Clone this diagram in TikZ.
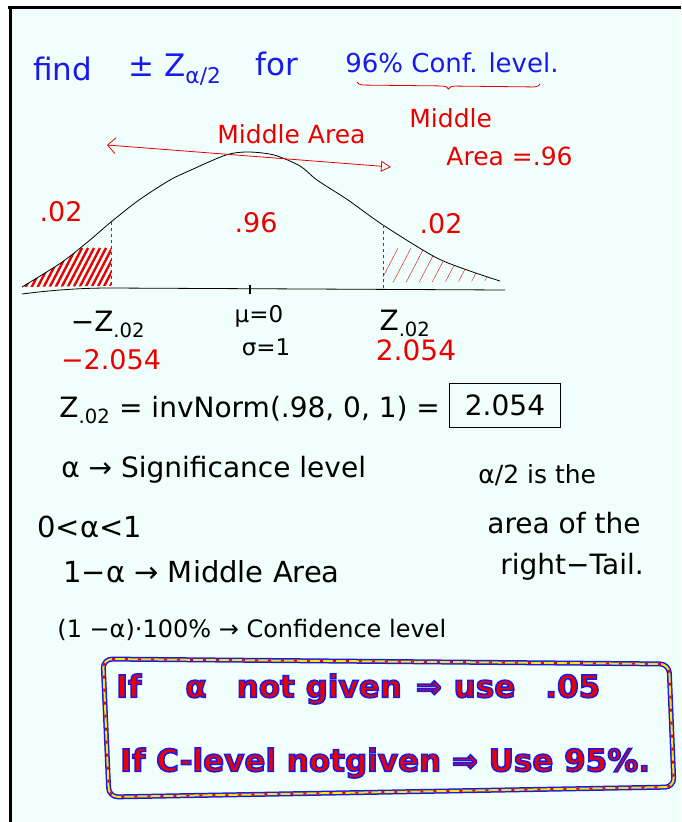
\documentclass[tikz,border=0pt]{standalone}
\usepackage{fontspec}
\setmainfont{DejaVu Sans}
\usetikzlibrary{arrows.meta,decorations.pathreplacing,positioning}
\definecolor{paper}{RGB}{240,255,251}
\definecolor{pen}{RGB}{25,25,235}
\definecolor{ink}{RGB}{235,0,0}
% red letters with a blue rim
\newcommand{\rim}[1]{\special{pdf:literal direct 0.1 0.1 0.92 RG 1.5 w 2 Tr}#1\special{pdf:literal direct 0 Tr}}

\begin{document}
\begin{tikzpicture}[x=1pt, y=-1pt, thick,
  hand/.style = {inner sep=0pt, font=\fontsize{28}{32}\selectfont},
  small/.style = {inner sep=0pt, font=\fontsize{23}{27}\selectfont},
  big/.style = {inner sep=0pt, text=pen, font=\fontsize{31}{34}\selectfont},
  redh/.style = {inner sep=0pt, text=ink, font=\fontsize{25}{29}\selectfont},
  outl/.style = {inner sep=0pt, text=ink, font=\fontsize{31}{35}\selectfont\bfseries}]
\useasboundingbox (0,0) rectangle (681,822);
\fill[paper] (10,7) rectangle (681,822);
\draw[line width=3pt] (8,7) -- (681,7);
\draw[line width=3pt] (10,7) -- (10,822);

% title
\node[big, anchor=base west] (find) at (33,80) {find};
\node[big, anchor=base west] (pm) at (128,76) {± Z\textsubscript{α/2}};
\node[big, anchor=base west] (for) at (255,75) {for};
\node[big, anchor=base west, font=\fontsize{26}{30}\selectfont] (conf) at (345,72) {96\% Conf. level.};
\draw[ink, decorate, decoration={brace, mirror, amplitude=6pt}] (357,82) -- (540,84);
\node[redh, anchor=base west] (mid1) at (409,127) {Middle};
\node[redh, anchor=base west] (mid2) at (446,165) {Area =.96};
\node[redh, anchor=base west] (mid3) at (217,143) {Middle Area};

% bell curve
\def\bell{(22,287) (45,273) (65,260) (90,240) (111,222) (139,200) (170,180) (191,170) (226,155) (248,152) (274,155) (300,166) (317,180) (348,200) (383,225) (435,257) (470,271) (500,281)}
\begin{scope}
  \clip (0,0) rectangle (111,300);
  \clip plot[smooth] coordinates {\bell} -- cycle;
  \foreach \i in {0,...,17}
    \draw[ink, line width=2.4pt] (8+\i*6,298) -- ++(26,-50);
\end{scope}
\begin{scope}
  \clip (383,0) rectangle (681,300);
  \clip plot[smooth] coordinates {\bell} -- cycle;
  \foreach \i in {0,...,9}
    \draw[ink, thin] (372+\i*13,298) -- ++(26,-50);
\end{scope}
\draw plot[smooth] coordinates {\bell};
\draw (22,294) .. controls (60,289) and (90,288) .. (110,288) -- (505,290);
\draw[line width=2pt] (250,285) -- (250,294);
\draw[ink, dashed] (111,222) -- (111,288);
\draw[ink, dashed] (383,225) -- (383,289);

\coordinate (al) at (107,145);
\coordinate (ar) at (391,167);
\draw[ink, {Straight Barb[length=8pt,width=16pt]}-{Triangle[open,length=10pt,width=11pt]}] (al) -- (ar);

\node[redh, font=\fontsize{27}{30}\selectfont] (p1) at (61,212) {.02};
\node[redh, font=\fontsize{27}{30}\selectfont] (p2) at (256,223) {.96};
\node[redh, font=\fontsize{27}{30}\selectfont] (p3) at (441,224) {.02};
\node[hand] (zl) at (108,324) {−Z\textsubscript{.02}};
\node[redh, font=\fontsize{27}{30}\selectfont] (vl) at (111,360) {−2.054};
\node[small] (mu) at (259,316) {μ=0};
\node[small] (sg) at (266,347) {σ=1};
\node[hand] (zr) at (405,323) {Z\textsubscript{.02}};
\node[redh, font=\fontsize{28}{31}\selectfont] (vr) at (416,350) {2.054};

% notes
\node[hand, anchor=west] (inv) at (59,410) {Z\textsubscript{.02} = invNorm(.98, 0, 1) =};
\node[hand, draw, minimum width=111, minimum height=44] (ans) at (505,405) {2.054};
\node[hand, anchor=west] (a1) at (61,470) {α → Significance level};
\node[hand, anchor=west, font=\fontsize{29}{32}\selectfont] (a2) at (37,527) {0<α<1};
\node[hand, anchor=west, font=\fontsize{29}{32}\selectfont] (a3) at (63,572) {1−α → Middle Area};
\node[hand, anchor=west, font=\fontsize{24}{28}\selectfont] (a4) at (57,630) {(1 −α)·100\% → Confidence level};
\node[hand, anchor=west, font=\fontsize{25}{28}\selectfont] (t1) at (478,475) {α/2 is the};
\node[hand, anchor=west] (t2) at (487,523) {area of the};
\node[hand, anchor=west] (t3) at (500,567) {right−Tail.};

% box
\coordinate (b1) at (103,659);
\coordinate (b2) at (669,664);
\coordinate (b3) at (674,787);
\coordinate (b4) at (109,797);
\draw[pen, line width=5pt, rounded corners=9pt] (b1) -- (b2) -- (b3) -- (b4) -- cycle;
\draw[yellow!90!orange, line width=2pt, rounded corners=9pt] (b1) -- (b2) -- (b3) -- (b4) -- cycle;
\draw[ink, line width=2pt, dash pattern=on 3pt off 10pt, rounded corners=9pt] (b1) -- (b2) -- (b3) -- (b4) -- cycle;
\node[outl, anchor=west] (r1) at (116,689) {\rim{If\hspace{44pt}α\hspace{30pt}not given\hspace{14pt}⇒\hspace{12pt}use\hspace{30pt}.05}};
\node[outl, anchor=west] (r2) at (120,763) {\rim{If C-level notgiven ⇒ Use 95\%.}};
\end{tikzpicture}
\end{document}
